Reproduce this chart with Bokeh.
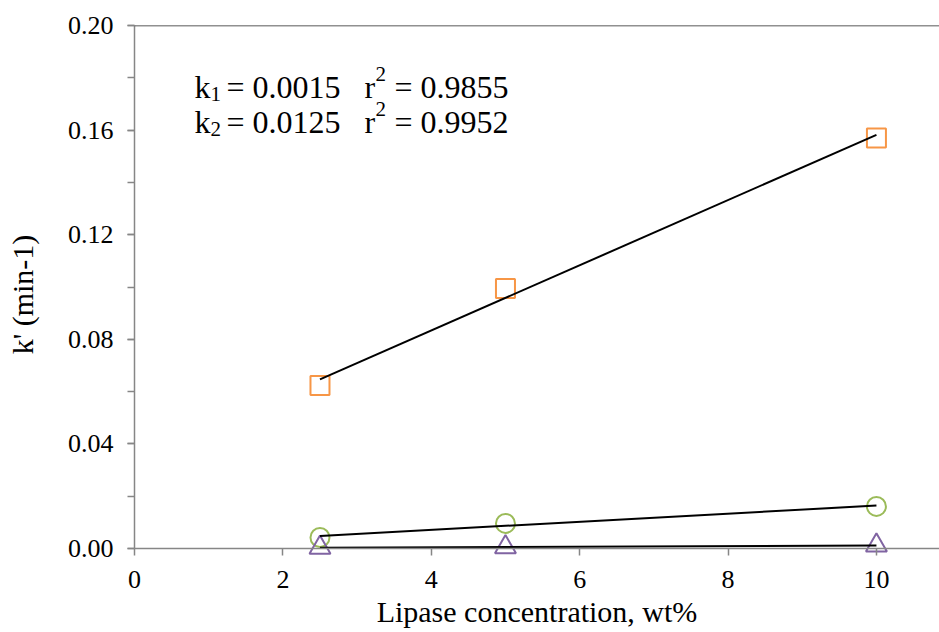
import numpy as np
from bokeh.plotting import figure
from bokeh.models import (Range1d, SingleIntervalTicker, NumeralTickFormatter,
                          Label, Span)
from bokeh.embed import file_html
from bokeh.resources import INLINE

# ---- data ----
lipase_wt = [2.5, 5.0, 10.0]
k_square = [0.0623, 0.0994, 0.1570]     # orange squares
k_circle = [0.0042, 0.0096, 0.0161]     # green circles
k_triangle = [0.0003, 0.0005, 0.0012]   # purple triangles

ann_line1 = ["k", "1", "= 0.0015", "r", "2", "= 0.9855"]
ann_line2 = ["k", "2", "= 0.0125", "r", "2", "= 0.9952"]

X_MAX = 10.85
Y_MAX = 0.20
FONT = "Liberation Serif"
AXFONT = "'Liberation Serif', 'Times New Roman', serif"
GRAY = "#868686"

# frame extends 15 px below y = 0 so markers sitting on the axis are not cut
BELOW_PX = 15
Y_MIN = -Y_MAX * BELOW_PX / 523

p = figure(frame_width=805, frame_height=523 + BELOW_PX,
           output_backend="svg", toolbar_location=None,
           x_range=Range1d(0, X_MAX), y_range=Range1d(Y_MIN, Y_MAX),
           min_border_left=134, min_border_right=0, min_border_top=25,
           min_border_bottom=632 - 25 - 523 - BELOW_PX)
p.outline_line_color = None
p.grid.visible = False
p.background_fill_color = "white"
p.border_fill_color = "white"

# x axis (drawn at frame bottom; ticks shifted up so they hang from y = 0)
xa = p.xaxis[0]
xa.ticker = SingleIntervalTicker(interval=2, num_minor_ticks=0)
xa.axis_label = "Lipase concentration, wt%"
xa.axis_line_color = None
xa.major_tick_in = BELOW_PX
xa.major_tick_out = -(BELOW_PX - 7)
xa.minor_tick_in = 0
xa.minor_tick_out = 0
xa.major_label_standoff = 7
xa.axis_label_standoff = 4

# y axis
ya = p.yaxis[0]
ya.ticker = SingleIntervalTicker(interval=0.04, num_minor_ticks=2)
ya.formatter = NumeralTickFormatter(format="0.00")
ya.axis_label = "k' (min-1)"
ya.bounds = (0, Y_MAX)
ya.axis_line_color = GRAY
ya.axis_line_width = 1.5
ya.major_tick_in = 0
ya.major_tick_out = 7
ya.minor_tick_in = 0
ya.minor_tick_out = 7
ya.major_label_standoff = 14
ya.axis_label_standoff = 26

for ax in (xa, ya):
    ax.major_tick_line_color = GRAY
    ax.minor_tick_line_color = GRAY
    ax.major_tick_line_width = 1.5
    ax.minor_tick_line_width = 1.5
    ax.major_label_text_font = AXFONT
    ax.major_label_text_font_size = "26px"
    ax.major_label_text_color = "black"
    ax.axis_label_text_font = AXFONT
    ax.axis_label_text_font_size = "30px"
    ax.axis_label_text_font_style = "normal"
    ax.axis_label_text_color = "black"

# x axis line at y = 0 and top border line
p.add_layout(Span(location=0, dimension="width", line_color=GRAY,
                  line_width=1.5))
p.add_layout(Span(location=Y_MAX, dimension="width", line_color="#222222",
                  line_width=1.5))

# markers
p.scatter(lipase_wt, k_square, marker="square", size=19, fill_color=None,
          line_color="#F79646", line_width=2)
p.scatter(lipase_wt, k_circle, marker="circle", size=19, fill_color=None,
          line_color="#9BBB59", line_width=2)
p.scatter(lipase_wt, k_triangle, marker="triangle", size=21, fill_color=None,
          line_color="#8064A2", line_width=2)

# linear trend lines
for ys in (k_square, k_circle, k_triangle):
    slope, icpt = np.polyfit(lipase_wt, ys, 1)
    xs = [min(lipase_wt), max(lipase_wt)]
    p.line(xs, [slope * v + icpt for v in xs], line_color="black", line_width=2)

# annotation (pixel positions converted to data coords)
def px_x(px):
    return (px - 134) / 805 * X_MAX

def px_y(py):
    return (548 - py) / 523 * Y_MAX

piece_x = [194, 210, 226, 364, 375, 394]
piece_size = ["32px", "21px", "32px", "32px", "21px", "32px"]
piece_dy = [0, 7, 0, 0, -13, 0]
for line_txt, base in ((ann_line1, 86), (ann_line2, 121)):
    for t, xp, sz, dy in zip(line_txt, piece_x, piece_size, piece_dy):
        p.add_layout(Label(x=px_x(xp), y=px_y(base + dy), text=t,
                           text_font=FONT, text_font_size=sz,
                           text_baseline="alphabetic", text_align="left",
                           text_color="black"))

open("out.html", "w").write(file_html(p, INLINE))
